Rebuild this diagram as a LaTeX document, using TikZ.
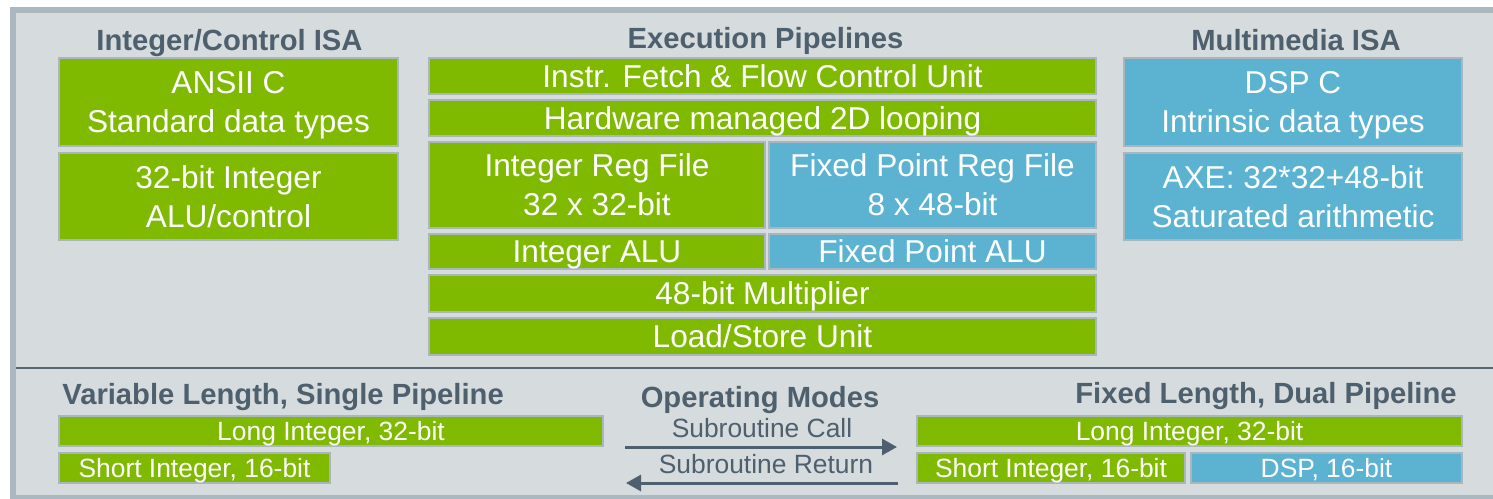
\documentclass[tikz,border=0pt]{standalone}
\usepackage{fontspec}
\setmainfont{Liberation Sans}
\usetikzlibrary{arrows.meta}
\definecolor{bgc}{HTML}{D6DBDD}
\definecolor{framec}{HTML}{ABB8C0}
\definecolor{boxline}{HTML}{A9B6BE}
\definecolor{ggreen}{HTML}{7FBA00}
\definecolor{bblue}{HTML}{5CB3D1}
\definecolor{slate}{HTML}{4E5F6E}
\definecolor{divc}{HTML}{56656F}
\newcommand{\nodepth}[1]{\raisebox{0pt}[\height][0pt]{#1}}
\tikzset{
  sz/.style 2 args={minimum width=#1*0.5pt, minimum height=#2*0.5pt},
  basebox/.style={draw=boxline, line width=1.3pt, inner sep=0pt, text=white, align=center},
  gbox/.style={basebox, fill=ggreen, font=\fontsize{15.8}{19.5}\selectfont},
  bbox/.style={basebox, fill=bblue, font=\fontsize{15.8}{19.5}\selectfont},
  oneline/.style={text height=11.3pt, text depth=0pt},
  sgbox/.style={basebox, text height=9.45pt, text depth=0pt, fill=ggreen, font=\fontsize{13.2}{15}\selectfont},
  sbbox/.style={basebox, text height=9.45pt, text depth=0pt, fill=bblue, font=\fontsize{13.2}{15}\selectfont},
  head/.style={text=slate, font=\bfseries\fontsize{14.6}{17}\selectfont, inner sep=0pt, anchor=base},
  subl/.style={text=slate, font=\fontsize{13.2}{15}\selectfont, inner sep=0pt, anchor=base},
  modearrow/.style={draw=slate, line width=1.5pt, -{Triangle[length=7.5pt,width=8pt]}}
}
\begin{document}
\begin{tikzpicture}[x=0.5pt,y=-0.5pt]
\useasboundingbox (0,0) rectangle (1493,498);
\clip (0,0) rectangle (1493,498);
\draw[draw=framec, fill=bgc, line width=3.1pt] (12.7,9.7) rectangle (1530,498.5);
\draw[divc, line width=1.2pt] (16,368) -- (1493,368);

% headers
\node[head] (hint) at (229.5,50) {Integer/Control ISA};
\node[head] (hexe) at (765.5,48) {Execution Pipelines};
\node[head] (hmul) at (1296,50) {Multimedia ISA};
\node[head, anchor=base west] (hvar) at (62,404) {Variable Length, Single Pipeline};
\node[head] (hop) at (760,407) {Operating Modes};
\node[head, anchor=base east] (hfix) at (1457,403) {Fixed Length, Dual Pipeline};

% left column
\node[gbox, sz={339}{88}] (ansi) at (228.5,102) {ANSII C\\\nodepth{Standard data types}};
\node[gbox, sz={339}{87}] (int32) at (228.5,196.5) {32-bit Integer\\\nodepth{ALU/control}};

% right column
\node[bbox, sz={338}{88}] (dspc) at (1293,102) {DSP C\\\nodepth{Intrinsic data types}};
\node[bbox, sz={338}{87}] (axe) at (1293,196.5) {AXE: 32*32+48-bit\\\nodepth{Saturated arithmetic}};

% execution pipelines
\node[gbox, oneline, sz={667}{36}] (ifetch) at (762.5,76) {Instr. Fetch \& Flow Control Unit};
\node[gbox, oneline, sz={667}{36}] (hwloop) at (762.5,118) {Hardware managed 2D looping};
\node[gbox, sz={336}{86}] (intreg) at (597,185) {Integer Reg File\\\nodepth{32 x 32-bit}};
\node[bbox, sz={327}{86}] (fixreg) at (932.5,185) {Fixed Point Reg File\\\nodepth{8 x 48-bit}};
\node[gbox, oneline, sz={336}{35}] (intalu) at (597,251.5) {Integer ALU};
\node[bbox, oneline, sz={327}{35}] (fixalu) at (932.5,251.5) {Fixed Point ALU};
\node[gbox, oneline, sz={667}{37}] (mult) at (762.5,293.5) {48-bit Multiplier};
\node[gbox, oneline, sz={667}{37}] (lsu) at (762.5,336.5) {Load/Store Unit};

% bottom left
\node[sgbox, sz={544}{30}] (vlong) at (331,431) {Long Integer, 32-bit};
\node[sgbox, sz={271}{30}] (vshort) at (194.5,468) {Short Integer, 16-bit};

% bottom right
\node[sgbox, sz={545}{30}] (flong) at (1189.5,431) {Long Integer, 32-bit};
\node[sgbox, sz={268}{30}] (fshort) at (1051,468) {Short Integer, 16-bit};
\node[sbbox, sz={271}{30}] (fdsp) at (1326.5,468) {DSP, 16-bit};

% operating modes
\node[subl] (lcall) at (762,437) {Subroutine Call};
\node[subl] (lret) at (766,473) {Subroutine Return};
\coordinate (cs) at (625,447);
\coordinate (ce) at (897,447);
\coordinate (rs) at (898,483);
\coordinate (re) at (626,483);
\draw[modearrow] (cs) -- (ce);
\draw[modearrow] (rs) -- (re);
\end{tikzpicture}
\end{document}
